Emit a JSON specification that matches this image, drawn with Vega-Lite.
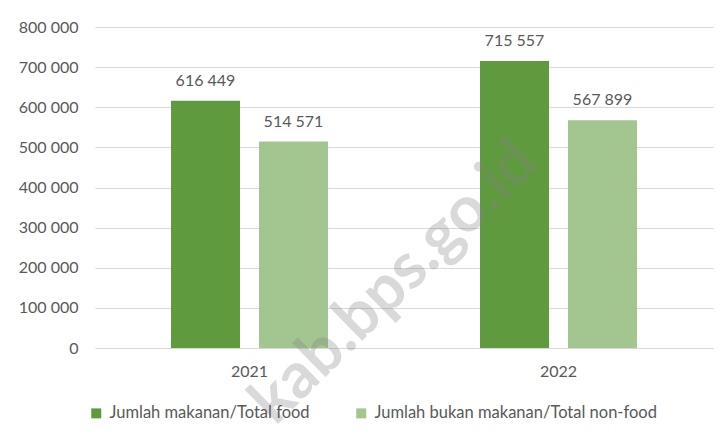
{
  "$schema": "https://vega.github.io/schema/vega-lite/v6.json",
  "width": 618,
  "height": 321,
  "autosize": {"type": "none"},
  "padding": {"left": 95, "top": 27, "right": 13, "bottom": 94},
  "background": "white",
  "config": {
    "locale": {"number": {"decimal": ",", "thousands": " ", "grouping": [3], "currency": ["", ""]}},
    "view": {"stroke": null},
    "font": "Lato",
    "axis": {"labelFont": "Lato", "labelFontSize": 16, "labelColor": "#595959", "title": null}
  },
  "datasets": {
    "main": [
      {"year": "2021", "type": "Jumlah makanan/Total food", "value": 616449},
      {"year": "2021", "type": "Jumlah bukan makanan/Total non-food", "value": 514571},
      {"year": "2022", "type": "Jumlah makanan/Total food", "value": 715557},
      {"year": "2022", "type": "Jumlah bukan makanan/Total non-food", "value": 567899}
    ],
    "mark": [
      {"year": "2021", "label": "kab.bps.go.id", "value": 140000}
    ]
  },
  "layer": [
    {
      "data": {"name": "main"},
      "mark": {"type": "bar"},
      "encoding": {
        "x": {
          "field": "year", "type": "nominal",
          "scale": {"paddingInner": 0.492, "paddingOuter": 0.246},
          "axis": {"labelAngle": 0, "ticks": false, "domainColor": "#D9D9D9", "domainWidth": 1, "labelPadding": 15, "grid": false}
        },
        "xOffset": {
          "field": "type", "type": "nominal",
          "scale": {"domain": ["Jumlah makanan/Total food", "Jumlah bukan makanan/Total non-food"], "paddingInner": 0.216, "paddingOuter": 0}
        },
        "y": {
          "field": "value", "type": "quantitative",
          "scale": {"domain": [0, 800000], "nice": false},
          "axis": {"values": [0, 100000, 200000, 300000, 400000, 500000, 600000, 700000, 800000], "format": ",d", "ticks": false, "domain": false, "gridColor": "#D9D9D9", "gridWidth": 1, "labelPadding": 17}
        },
        "color": {
          "field": "type", "type": "nominal",
          "scale": {"domain": ["Jumlah makanan/Total food", "Jumlah bukan makanan/Total non-food"], "range": ["#609A3E", "#A3C590"]},
          "legend": {
            "title": null, "orient": "none", "direction": "horizontal",
            "legendX": -7, "legendY": 378, "padding": 0,
            "symbolType": "square", "symbolSize": 100, "symbolStrokeWidth": 0,
            "labelFont": "Lato", "labelFontSize": 16.5, "labelColor": "#595959", "labelOffset": 5,
            "columnPadding": 43, "labelLimit": 400
          }
        }
      }
    },
    {
      "data": {"name": "main"},
      "mark": {"type": "text", "baseline": "middle", "dy": -20, "fontSize": 16, "font": "Lato", "color": "#595959"},
      "encoding": {
        "x": {"field": "year", "type": "nominal"},
        "xOffset": {"field": "type", "type": "nominal"},
        "y": {"field": "value", "type": "quantitative"},
        "text": {"field": "value", "type": "quantitative", "format": ",d"}
      }
    },
    {
      "data": {"name": "mark"},
      "mark": {"type": "text", "angle": -44.5, "fontSize": 64, "fontWeight": "bold", "font": "Lato", "fill": "#808080", "fillOpacity": 0.3, "align": "center", "baseline": "middle", "dx": 110, "dy": 95},
      "encoding": {
        "x": {"field": "year", "type": "nominal"},
        "y": {"field": "value", "type": "quantitative"},
        "text": {"field": "label", "type": "nominal"}
      }
    }
  ]
}
